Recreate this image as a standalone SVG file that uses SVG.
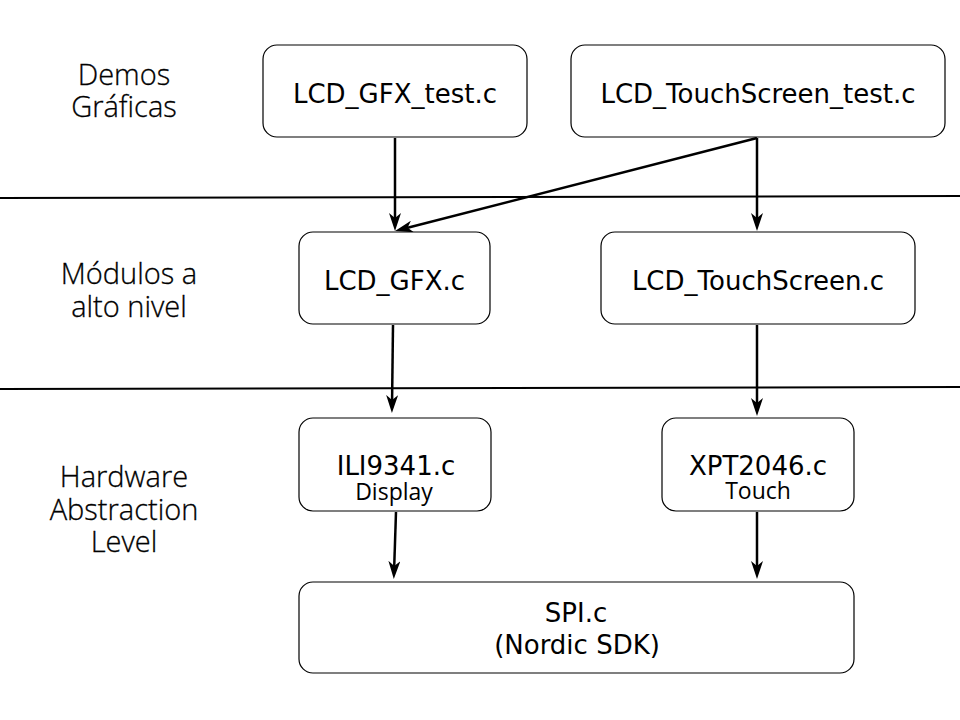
<svg xmlns="http://www.w3.org/2000/svg" width="960" height="720" viewBox="0 0 960 720">
<style>
.box{fill:#fff;stroke:#000;stroke-width:1.2}
.t{font-family:"DejaVu Sans",sans-serif;font-size:26px;fill:#000;text-anchor:middle}
.s{font-family:"Open Sans",sans-serif;font-size:23px;fill:#000;text-anchor:middle}
.lbl{font-family:"Open Sans",sans-serif;font-weight:300;font-size:29px;fill:#000;stroke:#000;stroke-width:0.3;text-anchor:middle}
.sep{stroke:#000;stroke-width:2;fill:none}
.c{stroke:#000;stroke-width:2.5;fill:none;marker-end:url(#arr)}
</style>
<defs>
<marker id="arr" markerUnits="userSpaceOnUse" viewBox="0 0 18 12" refX="12" refY="6" markerWidth="18" markerHeight="12" orient="auto">
<path d="M0,0 L18,6 L0,12 L5,6 Z" fill="#000"/>
</marker>
</defs>
<rect width="960" height="720" fill="#fff"/>
<g id="separators">
<line class="sep" x1="0" y1="198" x2="960" y2="196"/>
<line class="sep" x1="0" y1="389" x2="960" y2="387"/>
</g>
<g id="layer-labels">
<text class="lbl" x="124" y="85">Demos</text>
<text class="lbl" x="124" y="117">Gráficas</text>
<text class="lbl" x="129" y="284">Módulos a</text>
<text class="lbl" x="129" y="317">alto nivel</text>
<text class="lbl" x="124" y="487">Hardware</text>
<text class="lbl" x="124" y="520">Abstraction</text>
<text class="lbl" x="124" y="552">Level</text>
</g>
<g id="connectors">
<line class="c" x1="395" y1="138" x2="395" y2="225"/>
<line class="c" x1="757" y1="138" x2="400.8" y2="229.5"/>
<line class="c" x1="757" y1="138" x2="757" y2="225"/>
<line class="c" x1="393" y1="325" x2="392" y2="407"/>
<line class="c" x1="757" y1="325" x2="757" y2="410"/>
<line class="c" x1="396" y1="512" x2="394" y2="573"/>
<line class="c" x1="757" y1="512" x2="757" y2="573"/>
</g>
<g id="node-gfx-test">
<rect class="box" x="263" y="45" width="264" height="92" rx="14"/>
<text class="t" x="395" y="102.5">LCD_GFX_test.c</text>
</g>
<g id="node-touch-test">
<rect class="box" x="571" y="45" width="374" height="92" rx="14"/>
<text class="t" x="758" y="102.5">LCD_TouchScreen_test.c</text>
</g>
<g id="node-gfx">
<rect class="box" x="299" y="232" width="191" height="92" rx="14"/>
<text class="t" x="394.5" y="289.5">LCD_GFX.c</text>
</g>
<g id="node-touch">
<rect class="box" x="601" y="232" width="314" height="92" rx="14"/>
<text class="t" x="758" y="289.5">LCD_TouchScreen.c</text>
</g>
<g id="node-ili">
<rect class="box" x="299" y="418" width="192" height="93" rx="14"/>
<text class="t" x="396" y="474.5">ILI9341.c</text>
<text class="s" x="394" y="500">Display</text>
</g>
<g id="node-xpt">
<rect class="box" x="662" y="418" width="192" height="93" rx="14"/>
<text class="t" x="758" y="474.5">XPT2046.c</text>
<text class="s" x="758" y="499">Touch</text>
</g>
<g id="node-spi">
<rect class="box" x="299" y="582" width="555" height="91" rx="14"/>
<text class="t" x="576" y="621.5">SPI.c</text>
<text class="t" x="577" y="653.5">(Nordic SDK)</text>
</g>
</svg>
